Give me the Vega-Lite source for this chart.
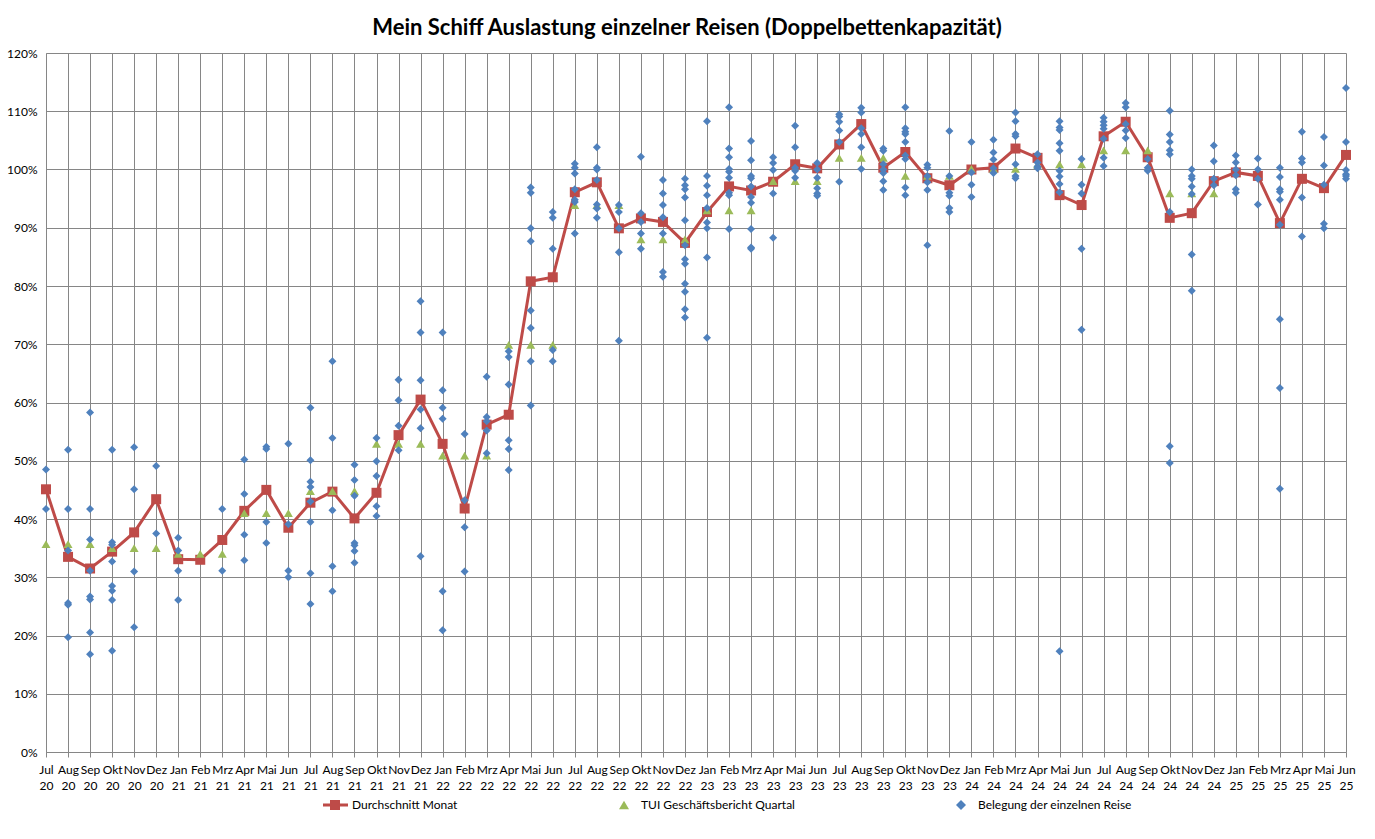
{
  "$schema": "https://vega.github.io/schema/vega-lite/v6.json",
  "width": 1300,
  "height": 699,
  "autosize": {"type": "none"},
  "padding": {"left": 46, "top": 53, "right": 29, "bottom": 87},
  "background": "white",
  "title": {"text": "Mein Schiff Auslastung einzelner Reisen (Doppelbettenkapazität)", "font": "Lato", "fontSize": 22, "fontWeight": "bold", "color": "#000000", "anchor": "middle", "dx": -9, "offset": 7},
  "config": {
    "view": {"stroke": null},
    "axis": {"gridColor": "#868686", "gridWidth": 1, "domainColor": "#868686", "tickColor": "#868686", "labelFont": "Lato", "labelFontSize": 12, "labelColor": "#000000", "title": null},
    "legend": {"labelFont": "Lato", "labelFontSize": 12, "labelColor": "#000000", "symbolSize": 100, "symbolStrokeWidth": 0, "labelOffset": 11, "columnPadding": 160}
  },
  "datasets": {
    "monthly": [
      {"m": "Jul 20", "avg": 45.1}, {"m": "Aug 20", "avg": 33.5}, {"m": "Sep 20", "avg": 31.5}, {"m": "Okt 20", "avg": 34.4}, {"m": "Nov 20", "avg": 37.7}, {"m": "Dez 20", "avg": 43.4},
      {"m": "Jan 21", "avg": 33.1}, {"m": "Feb 21", "avg": 33.0}, {"m": "Mrz 21", "avg": 36.4}, {"m": "Apr 21", "avg": 41.4}, {"m": "Mai 21", "avg": 45.0}, {"m": "Jun 21", "avg": 38.5},
      {"m": "Jul 21", "avg": 42.8}, {"m": "Aug 21", "avg": 44.7}, {"m": "Sep 21", "avg": 40.1}, {"m": "Okt 21", "avg": 44.5}, {"m": "Nov 21", "avg": 54.4}, {"m": "Dez 21", "avg": 60.5},
      {"m": "Jan 22", "avg": 52.9}, {"m": "Feb 22", "avg": 41.8}, {"m": "Mrz 22", "avg": 56.2}, {"m": "Apr 22", "avg": 57.9}, {"m": "Mai 22", "avg": 80.8}, {"m": "Jun 22", "avg": 81.5},
      {"m": "Jul 22", "avg": 96.1}, {"m": "Aug 22", "avg": 97.8}, {"m": "Sep 22", "avg": 89.9}, {"m": "Okt 22", "avg": 91.6}, {"m": "Nov 22", "avg": 91.0}, {"m": "Dez 22", "avg": 87.4},
      {"m": "Jan 23", "avg": 92.7}, {"m": "Feb 23", "avg": 97.1}, {"m": "Mrz 23", "avg": 96.4}, {"m": "Apr 23", "avg": 97.9}, {"m": "Mai 23", "avg": 100.9}, {"m": "Jun 23", "avg": 100.2},
      {"m": "Jul 23", "avg": 104.3}, {"m": "Aug 23", "avg": 107.8}, {"m": "Sep 23", "avg": 100.3}, {"m": "Okt 23", "avg": 103.0}, {"m": "Nov 23", "avg": 98.5}, {"m": "Dez 23", "avg": 97.3},
      {"m": "Jan 24", "avg": 100.0}, {"m": "Feb 24", "avg": 100.3}, {"m": "Mrz 24", "avg": 103.6}, {"m": "Apr 24", "avg": 102.0}, {"m": "Mai 24", "avg": 95.6}, {"m": "Jun 24", "avg": 93.9},
      {"m": "Jul 24", "avg": 105.7}, {"m": "Aug 24", "avg": 108.2}, {"m": "Sep 24", "avg": 102.1}, {"m": "Okt 24", "avg": 91.7}, {"m": "Nov 24", "avg": 92.5}, {"m": "Dez 24", "avg": 98.0},
      {"m": "Jan 25", "avg": 99.5}, {"m": "Feb 25", "avg": 98.9}, {"m": "Mrz 25", "avg": 90.8}, {"m": "Apr 25", "avg": 98.4}, {"m": "Mai 25", "avg": 96.8}, {"m": "Jun 25", "avg": 102.5}
    ],
    "tui": [
      {"m": "Jul 20", "q": 35.7}, {"m": "Aug 20", "q": 35.7}, {"m": "Sep 20", "q": 35.7},
      {"m": "Okt 20", "q": 35.0}, {"m": "Nov 20", "q": 35.0}, {"m": "Dez 20", "q": 35.0},
      {"m": "Jan 21", "q": 34.0}, {"m": "Feb 21", "q": 34.0}, {"m": "Mrz 21", "q": 34.0},
      {"m": "Apr 21", "q": 41.0}, {"m": "Mai 21", "q": 41.0}, {"m": "Jun 21", "q": 41.0},
      {"m": "Jul 21", "q": 44.8}, {"m": "Aug 21", "q": 44.8}, {"m": "Sep 21", "q": 44.8},
      {"m": "Okt 21", "q": 52.9}, {"m": "Nov 21", "q": 52.9}, {"m": "Dez 21", "q": 52.9},
      {"m": "Jan 22", "q": 50.9}, {"m": "Feb 22", "q": 50.9}, {"m": "Mrz 22", "q": 50.9},
      {"m": "Apr 22", "q": 69.9}, {"m": "Mai 22", "q": 69.9}, {"m": "Jun 22", "q": 69.9},
      {"m": "Jul 22", "q": 93.9}, {"m": "Aug 22", "q": 93.9}, {"m": "Sep 22", "q": 93.9},
      {"m": "Okt 22", "q": 88.0}, {"m": "Nov 22", "q": 88.0}, {"m": "Dez 22", "q": 88.0},
      {"m": "Jan 23", "q": 93.0}, {"m": "Feb 23", "q": 93.0}, {"m": "Mrz 23", "q": 93.0},
      {"m": "Apr 23", "q": 98.0}, {"m": "Mai 23", "q": 98.0}, {"m": "Jun 23", "q": 98.0},
      {"m": "Jul 23", "q": 102.0}, {"m": "Aug 23", "q": 102.0}, {"m": "Sep 23", "q": 102.0},
      {"m": "Okt 23", "q": 98.9}, {"m": "Nov 23", "q": 98.9}, {"m": "Dez 23", "q": 98.9},
      {"m": "Jan 24", "q": 100.1}, {"m": "Feb 24", "q": 100.1}, {"m": "Mrz 24", "q": 100.1},
      {"m": "Apr 24", "q": 100.9}, {"m": "Mai 24", "q": 100.9}, {"m": "Jun 24", "q": 100.9},
      {"m": "Jul 24", "q": 103.3}, {"m": "Aug 24", "q": 103.3}, {"m": "Sep 24", "q": 103.3},
      {"m": "Okt 24", "q": 95.9}, {"m": "Nov 24", "q": 95.9}, {"m": "Dez 24", "q": 95.9}
    ],
    "trips": [
      {"m": "Jul 20", "v": 48.5}, {"m": "Jul 20", "v": 41.7},
      {"m": "Aug 20", "v": 51.9}, {"m": "Aug 20", "v": 41.7}, {"m": "Aug 20", "v": 34.6}, {"m": "Aug 20", "v": 25.6}, {"m": "Aug 20", "v": 25.3}, {"m": "Aug 20", "v": 19.7},
      {"m": "Sep 20", "v": 58.3}, {"m": "Sep 20", "v": 41.7}, {"m": "Sep 20", "v": 36.5}, {"m": "Sep 20", "v": 31.1}, {"m": "Sep 20", "v": 26.7}, {"m": "Sep 20", "v": 26.2}, {"m": "Sep 20", "v": 20.5}, {"m": "Sep 20", "v": 16.8},
      {"m": "Okt 20", "v": 51.9}, {"m": "Okt 20", "v": 36.0}, {"m": "Okt 20", "v": 35.6}, {"m": "Okt 20", "v": 32.7}, {"m": "Okt 20", "v": 28.5}, {"m": "Okt 20", "v": 27.7}, {"m": "Okt 20", "v": 26.1}, {"m": "Okt 20", "v": 17.4},
      {"m": "Nov 20", "v": 52.3}, {"m": "Nov 20", "v": 45.1}, {"m": "Nov 20", "v": 31.0}, {"m": "Nov 20", "v": 21.4},
      {"m": "Dez 20", "v": 49.1}, {"m": "Dez 20", "v": 37.5},
      {"m": "Jan 21", "v": 36.8}, {"m": "Jan 21", "v": 34.6}, {"m": "Jan 21", "v": 31.1}, {"m": "Jan 21", "v": 26.1},
      {"m": "Mrz 21", "v": 41.7}, {"m": "Mrz 21", "v": 31.1},
      {"m": "Apr 21", "v": 50.2}, {"m": "Apr 21", "v": 44.3}, {"m": "Apr 21", "v": 37.3}, {"m": "Apr 21", "v": 32.9},
      {"m": "Mai 21", "v": 52.4}, {"m": "Mai 21", "v": 52.0}, {"m": "Mai 21", "v": 39.5}, {"m": "Mai 21", "v": 35.9},
      {"m": "Jun 21", "v": 52.9}, {"m": "Jun 21", "v": 39.1}, {"m": "Jun 21", "v": 31.1}, {"m": "Jun 21", "v": 30.0},
      {"m": "Jul 21", "v": 59.1}, {"m": "Jul 21", "v": 50.1}, {"m": "Jul 21", "v": 46.4}, {"m": "Jul 21", "v": 45.5}, {"m": "Jul 21", "v": 43.0}, {"m": "Jul 21", "v": 39.5}, {"m": "Jul 21", "v": 30.7}, {"m": "Jul 21", "v": 25.4},
      {"m": "Aug 21", "v": 67.1}, {"m": "Aug 21", "v": 53.9}, {"m": "Aug 21", "v": 41.5}, {"m": "Aug 21", "v": 31.9}, {"m": "Aug 21", "v": 27.6},
      {"m": "Sep 21", "v": 49.3}, {"m": "Sep 21", "v": 46.7}, {"m": "Sep 21", "v": 44.0}, {"m": "Sep 21", "v": 35.9}, {"m": "Sep 21", "v": 35.5}, {"m": "Sep 21", "v": 34.5}, {"m": "Sep 21", "v": 32.5},
      {"m": "Okt 21", "v": 53.9}, {"m": "Okt 21", "v": 49.9}, {"m": "Okt 21", "v": 47.4}, {"m": "Okt 21", "v": 42.2}, {"m": "Okt 21", "v": 40.5},
      {"m": "Nov 21", "v": 63.9}, {"m": "Nov 21", "v": 60.4}, {"m": "Nov 21", "v": 56.0}, {"m": "Nov 21", "v": 51.8},
      {"m": "Dez 21", "v": 77.4}, {"m": "Dez 21", "v": 72.0}, {"m": "Dez 21", "v": 63.8}, {"m": "Dez 21", "v": 58.8}, {"m": "Dez 21", "v": 55.6}, {"m": "Dez 21", "v": 33.6},
      {"m": "Jan 22", "v": 72.0}, {"m": "Jan 22", "v": 62.1}, {"m": "Jan 22", "v": 59.1}, {"m": "Jan 22", "v": 57.2}, {"m": "Jan 22", "v": 27.6}, {"m": "Jan 22", "v": 20.9},
      {"m": "Feb 22", "v": 54.6}, {"m": "Feb 22", "v": 43.2}, {"m": "Feb 22", "v": 38.6}, {"m": "Feb 22", "v": 31.0},
      {"m": "Mrz 22", "v": 64.4}, {"m": "Mrz 22", "v": 57.5}, {"m": "Mrz 22", "v": 56.8}, {"m": "Mrz 22", "v": 55.2}, {"m": "Mrz 22", "v": 51.3},
      {"m": "Apr 22", "v": 68.8}, {"m": "Apr 22", "v": 67.8}, {"m": "Apr 22", "v": 63.1}, {"m": "Apr 22", "v": 53.5}, {"m": "Apr 22", "v": 52.0}, {"m": "Apr 22", "v": 48.4},
      {"m": "Mai 22", "v": 96.9}, {"m": "Mai 22", "v": 96.0}, {"m": "Mai 22", "v": 89.9}, {"m": "Mai 22", "v": 87.7}, {"m": "Mai 22", "v": 75.8}, {"m": "Mai 22", "v": 72.8}, {"m": "Mai 22", "v": 67.1}, {"m": "Mai 22", "v": 59.5},
      {"m": "Jun 22", "v": 92.7}, {"m": "Jun 22", "v": 91.7}, {"m": "Jun 22", "v": 86.4}, {"m": "Jun 22", "v": 69.0}, {"m": "Jun 22", "v": 67.1},
      {"m": "Jul 22", "v": 101.0}, {"m": "Jul 22", "v": 100.3}, {"m": "Jul 22", "v": 99.3}, {"m": "Jul 22", "v": 96.6}, {"m": "Jul 22", "v": 94.8}, {"m": "Jul 22", "v": 94.4}, {"m": "Jul 22", "v": 89.0},
      {"m": "Aug 22", "v": 103.8}, {"m": "Aug 22", "v": 100.3}, {"m": "Aug 22", "v": 100.0}, {"m": "Aug 22", "v": 98.2}, {"m": "Aug 22", "v": 94.0}, {"m": "Aug 22", "v": 93.3}, {"m": "Aug 22", "v": 91.7},
      {"m": "Sep 22", "v": 93.9}, {"m": "Sep 22", "v": 92.7}, {"m": "Sep 22", "v": 89.9}, {"m": "Sep 22", "v": 85.8}, {"m": "Sep 22", "v": 70.6},
      {"m": "Okt 22", "v": 102.2}, {"m": "Okt 22", "v": 92.5}, {"m": "Okt 22", "v": 91.0}, {"m": "Okt 22", "v": 89.0}, {"m": "Okt 22", "v": 86.4},
      {"m": "Nov 22", "v": 98.2}, {"m": "Nov 22", "v": 95.9}, {"m": "Nov 22", "v": 93.9}, {"m": "Nov 22", "v": 91.8}, {"m": "Nov 22", "v": 89.0}, {"m": "Nov 22", "v": 82.4}, {"m": "Nov 22", "v": 81.6},
      {"m": "Dez 22", "v": 98.4}, {"m": "Dez 22", "v": 97.3}, {"m": "Dez 22", "v": 96.6}, {"m": "Dez 22", "v": 95.2}, {"m": "Dez 22", "v": 91.3}, {"m": "Dez 22", "v": 87.0}, {"m": "Dez 22", "v": 84.6}, {"m": "Dez 22", "v": 83.8}, {"m": "Dez 22", "v": 80.4}, {"m": "Dez 22", "v": 79.0}, {"m": "Dez 22", "v": 76.0}, {"m": "Dez 22", "v": 74.6},
      {"m": "Jan 23", "v": 108.3}, {"m": "Jan 23", "v": 98.9}, {"m": "Jan 23", "v": 97.2}, {"m": "Jan 23", "v": 95.6}, {"m": "Jan 23", "v": 93.4}, {"m": "Jan 23", "v": 90.9}, {"m": "Jan 23", "v": 89.9}, {"m": "Jan 23", "v": 84.9}, {"m": "Jan 23", "v": 71.1},
      {"m": "Feb 23", "v": 110.7}, {"m": "Feb 23", "v": 103.6}, {"m": "Feb 23", "v": 102.1}, {"m": "Feb 23", "v": 100.1}, {"m": "Feb 23", "v": 99.6}, {"m": "Feb 23", "v": 98.6}, {"m": "Feb 23", "v": 96.0}, {"m": "Feb 23", "v": 95.6}, {"m": "Feb 23", "v": 89.8},
      {"m": "Mrz 23", "v": 104.9}, {"m": "Mrz 23", "v": 101.6}, {"m": "Mrz 23", "v": 98.9}, {"m": "Mrz 23", "v": 98.5}, {"m": "Mrz 23", "v": 97.1}, {"m": "Mrz 23", "v": 95.3}, {"m": "Mrz 23", "v": 94.3}, {"m": "Mrz 23", "v": 89.8}, {"m": "Mrz 23", "v": 86.6}, {"m": "Mrz 23", "v": 86.4},
      {"m": "Apr 23", "v": 102.1}, {"m": "Apr 23", "v": 101.1}, {"m": "Apr 23", "v": 99.9}, {"m": "Apr 23", "v": 95.9}, {"m": "Apr 23", "v": 88.3},
      {"m": "Mai 23", "v": 107.5}, {"m": "Mai 23", "v": 103.8}, {"m": "Mai 23", "v": 100.3}, {"m": "Mai 23", "v": 99.8}, {"m": "Mai 23", "v": 98.6},
      {"m": "Jun 23", "v": 101.1}, {"m": "Jun 23", "v": 100.0}, {"m": "Jun 23", "v": 98.6}, {"m": "Jun 23", "v": 96.8}, {"m": "Jun 23", "v": 95.9}, {"m": "Jun 23", "v": 95.5},
      {"m": "Jul 23", "v": 109.5}, {"m": "Jul 23", "v": 109.1}, {"m": "Jul 23", "v": 108.2}, {"m": "Jul 23", "v": 106.7}, {"m": "Jul 23", "v": 104.7}, {"m": "Jul 23", "v": 97.9},
      {"m": "Aug 23", "v": 110.6}, {"m": "Aug 23", "v": 109.8}, {"m": "Aug 23", "v": 107.1}, {"m": "Aug 23", "v": 106.1}, {"m": "Aug 23", "v": 103.8}, {"m": "Aug 23", "v": 100.1},
      {"m": "Sep 23", "v": 103.6}, {"m": "Sep 23", "v": 103.2}, {"m": "Sep 23", "v": 100.9}, {"m": "Sep 23", "v": 100.0}, {"m": "Sep 23", "v": 99.4}, {"m": "Sep 23", "v": 98.0}, {"m": "Sep 23", "v": 96.5},
      {"m": "Okt 23", "v": 110.7}, {"m": "Okt 23", "v": 107.1}, {"m": "Okt 23", "v": 106.5}, {"m": "Okt 23", "v": 106.1}, {"m": "Okt 23", "v": 104.7}, {"m": "Okt 23", "v": 102.4}, {"m": "Okt 23", "v": 101.8}, {"m": "Okt 23", "v": 96.9}, {"m": "Okt 23", "v": 95.6},
      {"m": "Nov 23", "v": 100.8}, {"m": "Nov 23", "v": 100.3}, {"m": "Nov 23", "v": 98.9}, {"m": "Nov 23", "v": 97.8}, {"m": "Nov 23", "v": 96.5}, {"m": "Nov 23", "v": 87.0},
      {"m": "Dez 23", "v": 106.6}, {"m": "Dez 23", "v": 98.9}, {"m": "Dez 23", "v": 96.0}, {"m": "Dez 23", "v": 95.5}, {"m": "Dez 23", "v": 93.4}, {"m": "Dez 23", "v": 92.7},
      {"m": "Jan 24", "v": 104.7}, {"m": "Jan 24", "v": 99.5}, {"m": "Jan 24", "v": 97.4}, {"m": "Jan 24", "v": 95.3},
      {"m": "Feb 24", "v": 105.1}, {"m": "Feb 24", "v": 102.9}, {"m": "Feb 24", "v": 101.7}, {"m": "Feb 24", "v": 100.2}, {"m": "Feb 24", "v": 99.4},
      {"m": "Mrz 24", "v": 109.8}, {"m": "Mrz 24", "v": 108.3}, {"m": "Mrz 24", "v": 106.1}, {"m": "Mrz 24", "v": 105.7}, {"m": "Mrz 24", "v": 100.9}, {"m": "Mrz 24", "v": 98.9}, {"m": "Mrz 24", "v": 98.5},
      {"m": "Apr 24", "v": 102.6}, {"m": "Apr 24", "v": 101.2}, {"m": "Apr 24", "v": 100.5}, {"m": "Apr 24", "v": 100.2},
      {"m": "Mai 24", "v": 108.3}, {"m": "Mai 24", "v": 107.2}, {"m": "Mai 24", "v": 106.8}, {"m": "Mai 24", "v": 104.5}, {"m": "Mai 24", "v": 103.2}, {"m": "Mai 24", "v": 99.8}, {"m": "Mai 24", "v": 98.8}, {"m": "Mai 24", "v": 97.5}, {"m": "Mai 24", "v": 96.1}, {"m": "Mai 24", "v": 17.3},
      {"m": "Jun 24", "v": 101.8}, {"m": "Jun 24", "v": 97.4}, {"m": "Jun 24", "v": 95.9}, {"m": "Jun 24", "v": 86.4}, {"m": "Jun 24", "v": 72.5},
      {"m": "Jul 24", "v": 108.9}, {"m": "Jul 24", "v": 108.2}, {"m": "Jul 24", "v": 107.6}, {"m": "Jul 24", "v": 107.0}, {"m": "Jul 24", "v": 105.3}, {"m": "Jul 24", "v": 102.0}, {"m": "Jul 24", "v": 100.6},
      {"m": "Aug 24", "v": 111.4}, {"m": "Aug 24", "v": 110.7}, {"m": "Aug 24", "v": 107.8}, {"m": "Aug 24", "v": 106.7}, {"m": "Aug 24", "v": 105.4},
      {"m": "Sep 24", "v": 101.8}, {"m": "Sep 24", "v": 100.3}, {"m": "Sep 24", "v": 99.8},
      {"m": "Okt 24", "v": 110.1}, {"m": "Okt 24", "v": 106.0}, {"m": "Okt 24", "v": 104.7}, {"m": "Okt 24", "v": 103.3}, {"m": "Okt 24", "v": 102.6}, {"m": "Okt 24", "v": 92.7}, {"m": "Okt 24", "v": 52.5}, {"m": "Okt 24", "v": 49.6},
      {"m": "Nov 24", "v": 100.0}, {"m": "Nov 24", "v": 98.9}, {"m": "Nov 24", "v": 98.4}, {"m": "Nov 24", "v": 97.1}, {"m": "Nov 24", "v": 95.8}, {"m": "Nov 24", "v": 85.4}, {"m": "Nov 24", "v": 79.2},
      {"m": "Dez 24", "v": 104.1}, {"m": "Dez 24", "v": 101.4}, {"m": "Dez 24", "v": 98.4}, {"m": "Dez 24", "v": 97.3},
      {"m": "Jan 25", "v": 102.4}, {"m": "Jan 25", "v": 101.2}, {"m": "Jan 25", "v": 100.0}, {"m": "Jan 25", "v": 99.0}, {"m": "Jan 25", "v": 96.6}, {"m": "Jan 25", "v": 96.0},
      {"m": "Feb 25", "v": 101.9}, {"m": "Feb 25", "v": 100.0}, {"m": "Feb 25", "v": 98.4}, {"m": "Feb 25", "v": 94.0},
      {"m": "Mrz 25", "v": 100.3}, {"m": "Mrz 25", "v": 98.7}, {"m": "Mrz 25", "v": 96.6}, {"m": "Mrz 25", "v": 96.2}, {"m": "Mrz 25", "v": 94.8}, {"m": "Mrz 25", "v": 90.5}, {"m": "Mrz 25", "v": 74.3}, {"m": "Mrz 25", "v": 62.5}, {"m": "Mrz 25", "v": 45.2},
      {"m": "Apr 25", "v": 106.5}, {"m": "Apr 25", "v": 101.9}, {"m": "Apr 25", "v": 101.2}, {"m": "Apr 25", "v": 95.2}, {"m": "Apr 25", "v": 88.5},
      {"m": "Mai 25", "v": 105.6}, {"m": "Mai 25", "v": 100.7}, {"m": "Mai 25", "v": 97.4}, {"m": "Mai 25", "v": 90.7}, {"m": "Mai 25", "v": 89.9},
      {"m": "Jun 25", "v": 114.0}, {"m": "Jun 25", "v": 104.7}, {"m": "Jun 25", "v": 99.9}, {"m": "Jun 25", "v": 99.2}, {"m": "Jun 25", "v": 98.9}, {"m": "Jun 25", "v": 98.4}
    ]
  },
  "encoding": {
    "x": {
      "field": "m", "type": "ordinal",
      "scale": {"type": "point", "padding": 0, "domain": ["Jul 20","Aug 20","Sep 20","Okt 20","Nov 20","Dez 20","Jan 21","Feb 21","Mrz 21","Apr 21","Mai 21","Jun 21","Jul 21","Aug 21","Sep 21","Okt 21","Nov 21","Dez 21","Jan 22","Feb 22","Mrz 22","Apr 22","Mai 22","Jun 22","Jul 22","Aug 22","Sep 22","Okt 22","Nov 22","Dez 22","Jan 23","Feb 23","Mrz 23","Apr 23","Mai 23","Jun 23","Jul 23","Aug 23","Sep 23","Okt 23","Nov 23","Dez 23","Jan 24","Feb 24","Mrz 24","Apr 24","Mai 24","Jun 24","Jul 24","Aug 24","Sep 24","Okt 24","Nov 24","Dez 24","Jan 25","Feb 25","Mrz 25","Apr 25","Mai 25","Jun 25"]},
      "axis": {"labelAngle": 0, "labelExpr": "split(datum.label, ' ')", "labelLineHeight": 16, "labelBaseline": "top", "tickSize": 5, "labelPadding": 7, "grid": true, "labelOverlap": false, "labelBound": false, "labelFlush": false}
    }
  },
  "layer": [
    {
      "data": {"name": "monthly"},
      "mark": {"type": "line", "color": "#BE4B48", "strokeWidth": 3},
      "encoding": {
        "y": {"field": "avg", "type": "quantitative", "scale": {"domain": [0, 120], "nice": false}, "axis": {"values": [0,10,20,30,40,50,60,70,80,90,100,110,120], "labelExpr": "datum.value + '%'", "ticks": false, "labelPadding": 9, "grid": true}}
      }
    },
    {
      "data": {"name": "monthly"},
      "mark": {"type": "point", "shape": "square", "filled": true, "size": 100, "opacity": 1},
      "encoding": {
        "y": {"field": "avg", "type": "quantitative"},
        "color": {
          "datum": "Durchschnitt Monat",
          "scale": {"domain": ["Durchschnitt Monat", "TUI Geschäftsbericht Quartal", "Belegung der einzelnen Reise"], "range": ["#BE4B48", "#9BBB59", "#4F81BD"]},
          "legend": {"title": null, "orient": "none", "direction": "horizontal", "legendX": 283, "legendY": 746}
        }
      }
    },
    {
      "data": {"name": "tui"},
      "mark": {"type": "point", "filled": true, "size": 80, "opacity": 1},
      "encoding": {
        "y": {"field": "q", "type": "quantitative"},
        "color": {"datum": "TUI Geschäftsbericht Quartal"},
        "shape": {
          "datum": "TUI Geschäftsbericht Quartal",
          "scale": {"domain": ["Durchschnitt Monat", "TUI Geschäftsbericht Quartal", "Belegung der einzelnen Reise"], "range": ["M-2.4,-0.3H2.6V0.3H-2.4Z M-1,-1H1V1H-1Z", "triangle-up", "diamond"]},
          "legend": {"title": null, "orient": "none", "direction": "horizontal", "legendX": 283, "legendY": 746}
        }
      }
    },
    {
      "data": {"name": "trips"},
      "mark": {"type": "point", "filled": true, "size": 64, "opacity": 1},
      "encoding": {
        "y": {"field": "v", "type": "quantitative"},
        "color": {"datum": "Belegung der einzelnen Reise"},
        "shape": {"datum": "Belegung der einzelnen Reise"}
      }
    }
  ]
}
